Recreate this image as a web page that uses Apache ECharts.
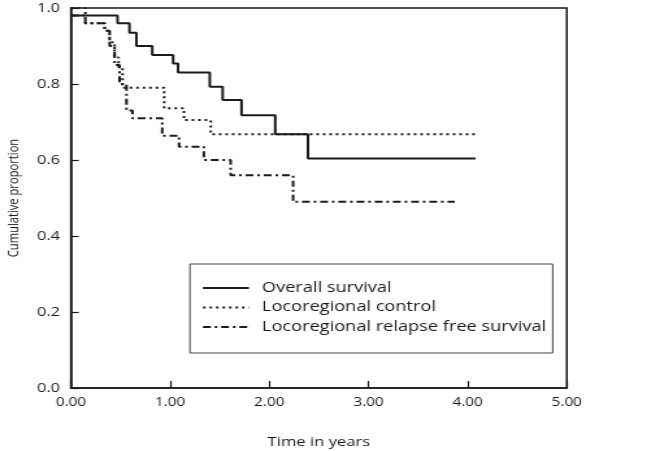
<!DOCTYPE html>
<html><head><meta charset="utf-8">
<script src="https://cdn.jsdelivr.net/npm/echarts@6/dist/echarts.min.js"></script>
<style>
html,body{margin:0;padding:0;background:#fff;overflow:hidden}
#wrap{width:664px;height:451px;overflow:hidden;position:relative}
#c{width:511px;height:451px;transform:scaleX(1.2994);transform-origin:0 0}
</style>
</head><body><div id="wrap"><div id="c"></div></div>
<script>
// Tick labels
const xTickValues = [0, 1, 2, 3, 4, 5];
const yTickValues = [0, 0.2, 0.4, 0.6, 0.8, 1.0];

// Overall survival (step times in years, proportion after each step)
const osTimes  = [0, 0.47, 0.59, 0.66, 0.82, 1.03, 1.08, 1.40, 1.53, 1.72, 2.06, 2.39, 4.08];
const osValues = [0.98, 0.96, 0.935, 0.90, 0.876, 0.854, 0.83, 0.793, 0.758, 0.718, 0.668, 0.604, 0.604];

// Locoregional control
const lcTimes  = [0, 0.145, 0.34, 0.39, 0.44, 0.48, 0.52, 0.94, 1.14, 1.41, 4.09];
const lcValues = [1.0, 0.96, 0.94, 0.91, 0.87, 0.845, 0.79, 0.736, 0.705, 0.668, 0.668];

// Locoregional relapse free survival
const rfTimes  = [0, 0.145, 0.34, 0.39, 0.44, 0.49, 0.56, 0.62, 0.92, 1.09, 1.34, 1.61, 2.24, 3.87];
const rfValues = [0.98, 0.96, 0.94, 0.90, 0.85, 0.80, 0.73, 0.71, 0.664, 0.635, 0.60, 0.56, 0.49, 0.49];

const seriesNames = ['Overall survival', 'Locoregional control', 'Locoregional relapse free survival'];

function pairs(t, v) { return t.map((x, i) => [x, v[i]]); }

const FONT = 'Open Sans';
const INK = '#1a1a1a';

const chart = echarts.init(document.getElementById('c'), null, {renderer: 'canvas'});
chart.setOption({
  animation: false,
  backgroundColor: '#fff',
  textStyle: {fontFamily: FONT, color: INK},
  grid: {left: 54.6, right: 74.8, top: 8, bottom: 63, containLabel: false, outerBoundsMode: 'none',
         show: true, borderColor: INK, borderWidth: 1.5, backgroundColor: 'transparent'},
  xAxis: {
    type: 'value', min: xTickValues[0], max: xTickValues[xTickValues.length - 1], interval: 1,
    name: 'Time in years', nameLocation: 'middle', nameGap: 48,
    nameTextStyle: {fontFamily: FONT, fontSize: 12.8, color: INK},
    axisLine: {show: true, lineStyle: {color: INK, width: 1.5}},
    axisTick: {show: true, inside: true, length: 7, lineStyle: {color: INK, width: 1.2}},
    axisLabel: {margin: 9, fontFamily: FONT, fontSize: 11.8, color: INK, formatter: v => v.toFixed(2)},
    splitLine: {show: false}
  },
  yAxis: {
    type: 'value', min: yTickValues[0], max: yTickValues[yTickValues.length - 1], interval: 0.2,
    name: 'Cumulative proportion', nameLocation: 'middle', nameGap: 38, nameRotate: 90,
    nameTextStyle: {fontFamily: FONT, fontSize: 11.2, color: INK},
    axisLine: {show: true, lineStyle: {color: INK, width: 1.5}},
    axisTick: {show: true, inside: true, length: 6, lineStyle: {color: INK, width: 1.2}},
    axisLabel: {margin: 8.5, fontFamily: FONT, fontSize: 12.5, color: INK, formatter: v => v.toFixed(1)},
    splitLine: {show: false}
  },
  legend: {
    orient: 'vertical', left: 146.2, top: 264,
    data: seriesNames,
    itemWidth: 35.4, itemHeight: 14, itemGap: 5.5,
    padding: [17, 5, 19, 9],
    borderColor: '#444', borderWidth: 1, backgroundColor: '#fff',
    itemStyle: {opacity: 0, borderWidth: 0},
    textStyle: {fontFamily: FONT, fontSize: 14, color: INK, padding: [0, 0, 0, 5]}
  },
  series: [
    {name: seriesNames[0], type: 'line', step: 'end', symbol: 'none', legendIcon: 'none', data: pairs(osTimes, osValues),
     lineStyle: {color: INK, width: 2, type: 'solid'}, itemStyle: {color: INK}, z: 3},
    {name: seriesNames[1], type: 'line', step: 'end', symbol: 'none', legendIcon: 'none', data: pairs(lcTimes, lcValues),
     lineStyle: {color: INK, width: 2, type: [2, 3]}, itemStyle: {color: INK}, z: 2},
    {name: seriesNames[2], type: 'line', step: 'end', symbol: 'none', legendIcon: 'none', data: pairs(rfTimes, rfValues),
     lineStyle: {color: INK, width: 2, type: [6, 3, 2, 3]}, itemStyle: {color: INK}, z: 2}
  ]
});
</script>
</body></html>
